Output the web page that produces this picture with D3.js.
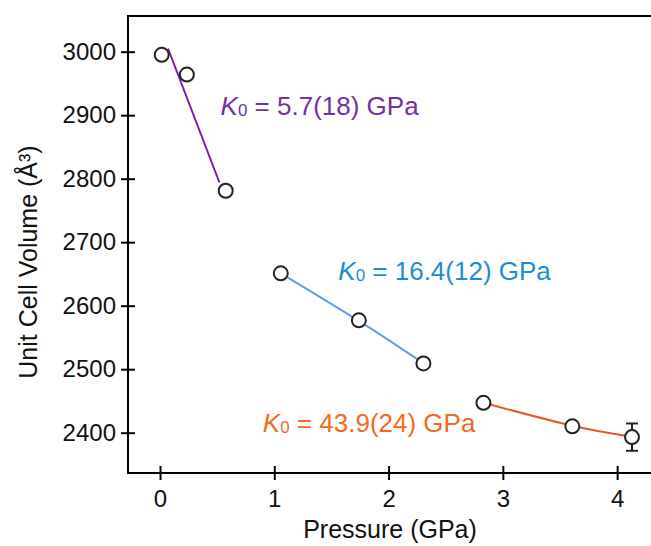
<!DOCTYPE html>
<html>
<head>
<meta charset="utf-8">
<script src="https://cdn.jsdelivr.net/npm/d3@7"></script>
<style>
  body { margin: 0; background: #fff; }
  text { font-family: "Liberation Sans", Arial, sans-serif; }
</style>
</head>
<body>
<script>
// Size of the figure
var width = 651;
var height = 546;

// Plot frame in pixels
var plotLeft = 128, plotRight = 672, plotTop = 16, plotBottom = 473;

// Data: pressure (GPa) and unit cell volume (A^3)
var purplePressure = [0.015, 0.235, 0.575];
var purpleVolume = [2995, 2964, 2781];
var bluePressure = [1.057, 1.74, 2.305];
var blueVolume = [2651, 2577, 2509];
var orangePressure = [2.83, 3.608, 4.13];
var orangeVolume = [2447, 2410, 2393];
var orangeError = [0, 0, 21.5];

// Fitted equation of state curves
var purpleFitP = [0.07, 0.52];
var purpleFitV = [3005, 2794];
var blueFitP = [1.057, 1.74, 2.29];
var blueFitV = [2651, 2576, 2511];
var orangeFitP = [2.83, 3.608, 4.12];
var orangeFitV = [2447, 2411, 2394];

// Tick values
var xTicks = [0, 1, 2, 3, 4];
var yTicks = [2400, 2500, 2600, 2700, 2800, 2900, 3000];

// Labels for the bulk moduli
var labelText = ["5.7(18)", "16.4(12)", "43.9(24)"];
var labelP = [0.53, 1.56, 0.90];
var labelV = [2900, 2640, 2401];

var lineColors = ["#7b1fa2", "#5b9fe8", "#e8582b"];
var textColors = ["#7033a0", "#1d8bd6", "#f26a22"];

var svg = d3.select("body")
  .append("svg")
  .attr("width", width)
  .attr("height", height);

var x = d3.scaleLinear().domain([-0.28, 4.48]).range([plotLeft, plotRight]);
var y = d3.scaleLinear().domain([2336.5, 3056.2]).range([plotBottom, plotTop]);

// Frame (right side runs off the picture)
svg.append("rect")
  .attr("x", plotLeft)
  .attr("y", plotTop)
  .attr("width", plotRight - plotLeft)
  .attr("height", plotBottom - plotTop)
  .attr("fill", "none")
  .attr("stroke", "#000")
  .attr("stroke-width", 2);

// Axes
var xAxis = svg.append("g")
  .attr("transform", "translate(0," + plotBottom + ")")
  .call(d3.axisBottom(x).tickValues(xTicks).tickFormat(d3.format("d")).tickSize(7).tickPadding(10));

var yAxis = svg.append("g")
  .attr("transform", "translate(" + plotLeft + ",0)")
  .call(d3.axisLeft(y).tickValues(yTicks).tickFormat(d3.format("d")).tickSize(7).tickPadding(5));

[xAxis, yAxis].forEach(function(g) {
  g.select(".domain").remove();
  g.selectAll(".tick line").attr("stroke", "#000").attr("stroke-width", 2);
  g.selectAll(".tick text")
    .attr("fill", "#111")
    .style("font-size", "24px")
    .style("font-family", "Liberation Sans, Arial, sans-serif");
});
// ticks cross the axis line
xAxis.selectAll(".tick line").attr("y1", -7);
yAxis.selectAll(".tick line").attr("x1", 7);

// Axis titles
svg.append("text")
  .attr("x", 390)
  .attr("y", 538)
  .attr("text-anchor", "middle")
  .attr("fill", "#111")
  .style("font-size", "25px")
  .text("Pressure (GPa)");

svg.append("text")
  .attr("transform", "translate(37,262) rotate(-90)")
  .attr("text-anchor", "middle")
  .attr("fill", "#111")
  .style("font-size", "25px")
  .text("Unit Cell Volume (Å³)");

// Fit curves
var line = d3.line()
  .x(function(d) { return x(d[0]); })
  .y(function(d) { return y(d[1]); })
  .curve(d3.curveNatural);

var fits = [d3.zip(purpleFitP, purpleFitV), d3.zip(blueFitP, blueFitV), d3.zip(orangeFitP, orangeFitV)];
fits.forEach(function(f, i) {
  svg.append("path")
    .datum(f)
    .attr("d", line)
    .attr("fill", "none")
    .attr("stroke", lineColors[i])
    .attr("stroke-width", 2);
});

// Error bars
var orangePts = d3.zip(orangePressure, orangeVolume, orangeError);
var errs = svg.selectAll(".err")
  .data(orangePts.filter(function(d) { return d[2] > 0; }))
  .enter()
  .append("g")
  .attr("class", "err")
  .attr("stroke", "#222")
  .attr("stroke-width", 2);
errs.append("line")
  .attr("x1", function(d) { return x(d[0]); })
  .attr("x2", function(d) { return x(d[0]); })
  .attr("y1", function(d) { return y(d[1] + d[2]); })
  .attr("y2", function(d) { return y(d[1] - d[2]); });
errs.append("line")
  .attr("x1", function(d) { return x(d[0]) - 6; })
  .attr("x2", function(d) { return x(d[0]) + 6; })
  .attr("y1", function(d) { return y(d[1] + d[2]); })
  .attr("y2", function(d) { return y(d[1] + d[2]); });
errs.append("line")
  .attr("x1", function(d) { return x(d[0]) - 6; })
  .attr("x2", function(d) { return x(d[0]) + 6; })
  .attr("y1", function(d) { return y(d[1] - d[2]); })
  .attr("y2", function(d) { return y(d[1] - d[2]); });

// Data points
var points = d3.zip(purplePressure, purpleVolume)
  .concat(d3.zip(bluePressure, blueVolume))
  .concat(d3.zip(orangePressure, orangeVolume));

svg.selectAll(".pt")
  .data(points)
  .enter()
  .append("circle")
  .attr("class", "pt")
  .attr("cx", function(d) { return x(d[0]); })
  .attr("cy", function(d) { return y(d[1]); })
  .attr("r", 7)
  .attr("fill", "#fff")
  .attr("stroke", "#222")
  .attr("stroke-width", 2);

// K0 labels
labelText.forEach(function(t, i) {
  var lbl = svg.append("text")
    .attr("x", x(labelP[i]))
    .attr("y", y(labelV[i]))
    .attr("fill", textColors[i])
    .style("font-size", "26px");
  lbl.append("tspan").style("font-style", "italic").text("K");
  lbl.append("tspan").attr("dy", 1).style("font-size", "17px").text("0");
  lbl.append("tspan").attr("dy", -1).text(" = " + t + " GPa");
});
</script>
</body>
</html>
